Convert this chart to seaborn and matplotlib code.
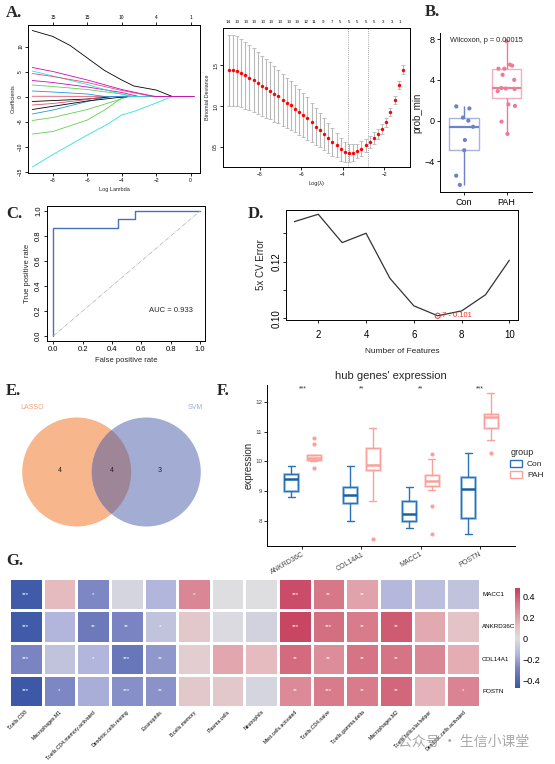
import matplotlib
matplotlib.use("Agg")
import matplotlib.pyplot as plt
import numpy as np
import pandas as pd
import seaborn as sns
from matplotlib.colors import LinearSegmentedColormap
from matplotlib.patches import Circle, Patch

# ---------------- data ----------------
# A. lasso coefficient paths: (log lambda, coefficient)
lasso_paths = [
    [(-9.2, 13.2), (-8, 12.0), (-7, 10.2), (-6, 7.7), (-5, 5.2), (-4, 3.3), (-3.3, 2.1), (-2, 1.3), (-1.06, 0), (0.2, 0)],
    [(-9.2, -14.1), (-8, -11.6), (-6, -7.7), (-4.8, -5.5), (-4, -3.7), (-3.3, -3.0), (-2, -1.3), (-1.06, 0), (0.2, 0)],
    [(-9.2, -7.5), (-8, -7.0), (-6, -4.7), (-5, -2.7), (-4, -0.3), (-3.8, 0), (0.2, 0)],
    [(-9.2, -4.8), (-8, -4.2), (-6, -2.6), (-4.5, -1.0), (-3.6, 0), (0.2, 0)],
    [(-9.2, -3.5), (-8, -2.7), (-6, -1.0), (-4.7, 0), (0.2, 0)],
    [(-9.2, -2.6), (-6, -0.9), (-4.2, -0.2), (-3.5, 0), (0.2, 0)],
    [(-9.2, -1.0), (-6, -0.5), (-4.5, 0), (0.2, 0)],
    [(-9.2, -1.7), (-8, -1.4), (-6, -0.6), (-5, 0), (0.2, 0)],
    [(-9.2, 0.05), (0.2, 0)],
    [(-9.2, 1.1), (-8, 0.9), (-6, 0.5), (-5, 0), (0.2, 0)],
    [(-9.2, 2.3), (-8, 2.0), (-6, 1.4), (-4, 0.5), (-3.3, 0), (0.2, 0)],
    [(-9.2, 3.2), (-8, 2.8), (-6, 1.9), (-4, 0.8), (-3, 0), (0.2, 0)],
    [(-9.2, 5.1), (-8, 4.1), (-6, 2.4), (-4.5, 0.9), (-3.5, 0), (0.2, 0)],
    [(-9.2, 4.6), (-8, 4.0), (-6, 2.8), (-4, 1.2), (-2.5, 0.2), (-2.2, 0), (0.2, 0)],
    [(-9.2, 5.8), (-8, 5.0), (-6, 3.3), (-4, 1.4), (-2.5, 0.3), (-2, 0), (0.2, 0)],
]
lasso_colors = ["black", "#28E2E5", "#61D04F", "#61D04F", "#2297E6", "black", "black",
                "#DF536B", "#DF536B", "#2297E6", "#61D04F", "#CD0BBC", "#28E2E5",
                "#DF536B", "#CD0BBC"]
lasso_top_pos = [-8, -6, -4, -2, 0]
lasso_top_labels = ["15", "15", "10", "4", "1"]

# A. cross-validation curve
cv_loglam = [-9.5, -9.3, -9.1, -8.9, -8.7, -8.5, -8.3, -8.1, -7.9, -7.7, -7.5, -7.3, -7.1,
             -6.9, -6.7, -6.5, -6.3, -6.1, -5.9, -5.7, -5.5, -5.3, -5.1, -4.9, -4.7, -4.5,
             -4.3, -4.1, -3.9, -3.7, -3.5, -3.3, -3.1, -2.9, -2.7, -2.5, -2.3, -2.1, -1.9,
             -1.7, -1.5, -1.3, -1.1]
cv_mean = [1.44, 1.44, 1.43, 1.41, 1.38, 1.35, 1.32, 1.28, 1.25, 1.22, 1.19, 1.15, 1.12,
           1.08, 1.04, 1.01, 0.97, 0.93, 0.89, 0.85, 0.80, 0.75, 0.71, 0.66, 0.61, 0.56,
           0.52, 0.47, 0.44, 0.42, 0.43, 0.45, 0.48, 0.52, 0.56, 0.61, 0.66, 0.72, 0.80,
           0.93, 1.08, 1.26, 1.45]
cv_se = [0.44, 0.44, 0.43, 0.42, 0.41, 0.40, 0.39, 0.38, 0.37, 0.36, 0.35, 0.34, 0.33,
         0.32, 0.31, 0.30, 0.29, 0.28, 0.27, 0.26, 0.24, 0.23, 0.21, 0.20, 0.18, 0.17,
         0.15, 0.14, 0.12, 0.11, 0.10, 0.09, 0.09, 0.08, 0.07, 0.07, 0.06, 0.06, 0.05,
         0.05, 0.05, 0.05, 0.05]
cv_lambda_lines = [-3.77, -2.77]
cv_top_pos = [-9.5, -9.09, -8.67, -8.26, -7.85, -7.43, -7.02, -6.61, -6.19, -5.78, -5.37,
              -4.95, -4.54, -4.13, -3.71, -3.30, -2.89, -2.47, -2.06, -1.65, -1.23]
cv_top_labels = ["14", "13", "13", "13", "13", "13", "13", "13", "13", "12", "11", "9",
                 "7", "5", "5", "5", "5", "5", "3", "3", "1"]

# B. prob_min by group
con_prob = [1.4, 1.2, 0.3, 0.0, -0.6, -1.9, -2.9, -5.4, -6.3]
pah_prob = [7.8, 5.5, 5.4, 5.1, 5.1, 4.5, 4.0, 3.2, 3.15, 3.1, 2.9, 1.6, 1.45, -0.1, -1.3]
b_palette = {"Con": "#6C82C8", "PAH": "#EC7B96"}

# C. ROC
roc_fpr = [0.0, 0.0, 0.444, 0.444, 0.556, 0.556, 1.0]
roc_tpr = [0.0, 0.867, 0.867, 0.933, 0.933, 1.0, 1.0]
roc_auc = 0.933

# D. SVM-RFE
n_features = [1, 2, 3, 4, 5, 6, 7, 8, 9, 10]
cv_error = [0.1341, 0.1367, 0.1267, 0.1300, 0.1141, 0.1044, 0.1009, 0.1026, 0.1083, 0.1205]

# E. Venn
venn_sets = ["LASSO", "SVM"]
venn_counts = [4, 4, 3]  # lasso only, both, svm only

# F. hub gene expression (box statistics)
f_genes = ["ANKRD36C", "COL14A1", "MACC1", "POSTN"]
f_stars = ["***", "**", "**", "***"]
con_whislo = [8.82, 8.00, 7.76, 7.55]
con_q1 = [9.00, 8.61, 8.00, 8.09]
con_med = [9.41, 8.88, 8.23, 9.06]
con_q3 = [9.59, 9.14, 8.68, 9.49]
con_whishi = [9.86, 9.86, 9.13, 10.28]
con_fliers = [[], [], [], []]
pah_whislo = [10.00, 8.67, 9.04, 10.71]
pah_q1 = [10.05, 9.72, 9.17, 11.11]
pah_med = [10.10, 9.89, 9.35, 11.48]
pah_q3 = [10.20, 10.45, 9.54, 11.59]
pah_whishi = [10.22, 11.13, 10.08, 12.28]
pah_fliers = [[10.77, 10.58, 9.78], [7.39], [10.25, 8.51, 7.55], [10.28]]

# G. correlation heatmap
heat_cols = ["T.cells.CD8", "Macrophages.M1", "T.cells.CD4.memory.activated",
             "Dendritic.cells.resting", "Eosinophils", "B.cells.memory", "Plasma.cells",
             "Neutrophils", "Mast.cells.activated", "T.cells.CD4.naive",
             "T.cells.gamma.delta", "Macrophages.M2", "T.cells.follicular.helper",
             "Dendritic.cells.activated"]
heat_rows = ["MACC1", "ANKRD36C", "COL14A1", "POSTN"]
corr_macc1 = [-0.45, 0.13, -0.27, -0.03, -0.15, 0.28, 0.00, 0.00, 0.44, 0.32, 0.20, -0.14, -0.12, -0.10]
corr_ankrd = [-0.45, -0.15, -0.32, -0.28, -0.10, 0.08, -0.01, -0.04, 0.46, 0.35, 0.31, 0.40, 0.18, 0.10]
corr_col14 = [-0.28, -0.10, -0.15, -0.33, -0.23, 0.06, 0.19, 0.13, 0.36, 0.26, 0.33, 0.33, 0.28, 0.17]
corr_postn = [-0.46, -0.27, -0.17, -0.25, -0.24, 0.08, 0.08, -0.03, 0.27, 0.31, 0.31, 0.37, 0.15, 0.29]
stars_macc1 = ["***", "", "*", "", "", "*", "", "", "***", "**", "**", "", "", ""]
stars_ankrd = ["***", "", "**", "**", "*", "", "", "", "***", "***", "**", "**", "", ""]
stars_col14 = ["***", "", "*", "***", "**", "", "", "", "**", "**", "**", "**", "", ""]
stars_postn = ["***", "*", "", "***", "**", "", "", "", "**", "***", "**", "**", "", "*"]

# ---------------- figure ----------------
W, H = 555, 764
sns.set_theme(style="ticks")
plt.rcParams["font.family"] = ["Liberation Sans", "DejaVu Sans"]
plt.rcParams.update({
    "axes.edgecolor": "black", "axes.linewidth": 0.7,
    "xtick.major.size": 2, "ytick.major.size": 2,
    "xtick.major.width": 0.6, "ytick.major.width": 0.6,
    "xtick.major.pad": 1.5, "ytick.major.pad": 1.5,
    "xtick.color": "black", "ytick.color": "black",
})

fig = plt.figure(figsize=(W / 100, H / 100), dpi=100)


def add_ax(x0, y0, x1, y1):
    return fig.add_axes([x0 / W, 1 - y1 / H, (x1 - x0) / W, (y1 - y0) / H])


def r_style(ax, fs):
    for s in ax.spines.values():
        s.set_visible(True)
        s.set_linewidth(0.7)
    ax.tick_params(labelsize=fs, direction="out")
    for t in ax.get_yticklabels():
        t.set_rotation(90)
        t.set_va("center")


def panel_label(x, y, s):
    fig.text(x / W, 1 - y / H, s, fontfamily="Liberation Serif", fontweight="bold",
             fontsize=12, va="top", ha="left")


# A1 lasso paths
ax = add_ax(28, 25, 200, 173)
for path, col in zip(lasso_paths, lasso_colors):
    df = pd.DataFrame(path, columns=["loglam", "coef"])
    sns.lineplot(data=df, x="loglam", y="coef", ax=ax, color=col, lw=0.6,
                 sort=False, estimator=None)
ax.set_xlim(-9.45, 0.55)
ax.set_ylim(-15.3, 14.3)
ax.set_xticks([-8, -6, -4, -2, 0])
ax.set_yticks([-15, -10, -5, 0, 5, 10])
ax.set_xlabel("Log Lambda", fontsize=4, labelpad=3)
ax.set_ylabel("Coefficients", fontsize=4, labelpad=2)
r_style(ax, 3.5)
top = ax.secondary_xaxis("top")
top.set_xticks(lasso_top_pos, labels=lasso_top_labels)
top.tick_params(labelsize=3.5, length=2, pad=1.5)

# A2 cv curve
ax = add_ax(223, 28, 410, 167)
ax.errorbar(cv_loglam, cv_mean, yerr=cv_se, fmt="none", ecolor="#B8B8B8",
            elinewidth=0.8, capsize=1.4, capthick=0.6)
sns.scatterplot(x=cv_loglam, y=cv_mean, ax=ax, color="#FF0000", s=6, linewidth=0, zorder=3)
for v in cv_lambda_lines:
    ax.axvline(v, color="#888888", ls=(0, (1, 1.5)), lw=0.6)
ax.set_xlim(-9.77, -0.76)
ax.set_ylim(0.253, 1.96)
ax.set_xticks([-8, -6, -4, -2])
ax.set_yticks([0.5, 1.0, 1.5])
ax.set_xlabel("Log(λ)", fontsize=4, labelpad=3)
ax.set_ylabel("Binomial Deviance", fontsize=4, labelpad=2)
r_style(ax, 3.5)
top = ax.secondary_xaxis("top")
top.set_xticks(cv_top_pos, labels=cv_top_labels)
top.tick_params(labelsize=3.2, length=0, pad=3)
top.spines["top"].set_visible(False)

# B boxplot
b_df = pd.DataFrame({"group": ["Con"] * len(con_prob) + ["PAH"] * len(pah_prob),
                     "prob_min": con_prob + pah_prob})
ax = add_ax(440, 33, 532, 192)
sns.boxplot(data=b_df, x="group", y="prob_min", hue="group", palette=b_palette,
            fill=False, width=0.7, showfliers=False, showcaps=False, linewidth=1.0,
            boxprops=dict(alpha=0.6), medianprops=dict(linewidth=1.6),
            legend=False, ax=ax)
np.random.seed(7)
sns.stripplot(data=b_df, x="group", y="prob_min", hue="group", palette=b_palette,
              jitter=0.22, size=3, linewidth=0, legend=False, ax=ax, zorder=3)
ax.set_xlim(-0.57, 1.6)
ax.set_ylim(-7.0, 8.6)
ax.set_yticks([-4, 0, 4, 8])
ax.set_xlabel("")
ax.set_ylabel("prob_min", fontsize=7, labelpad=1)
ax.tick_params(labelsize=6.5, length=2.5)
sns.despine(ax=ax)
ax.text(-0.34, 7.9, "Wilcoxon, p = 0.00015", fontsize=5.3, va="center", ha="left")

# C ROC
ax = add_ax(47, 206, 205, 341)
sns.lineplot(x=roc_fpr, y=roc_tpr, ax=ax, color="#4A72B8", lw=1.0, sort=False, estimator=None)
ax.plot([0, 1], [0, 1], color="#B0B0B0", lw=0.5, ls="-.")
ax.set_xlim(-0.043, 1.034)
ax.set_ylim(-0.04, 1.04)
ax.set_xticks([0, 0.2, 0.4, 0.6, 0.8, 1.0])
ax.set_yticks([0, 0.2, 0.4, 0.6, 0.8, 1.0])
ax.set_xticklabels(["0.0", "0.2", "0.4", "0.6", "0.8", "1.0"])
ax.set_yticklabels(["0.0", "0.2", "0.4", "0.6", "0.8", "1.0"])
ax.set_xlabel("False positive rate", fontsize=5.5, labelpad=3)
ax.set_ylabel("True positive rate", fontsize=5.5, labelpad=3)
r_style(ax, 5.5)
ax.text(0.80, 0.2, f"AUC = {roc_auc}", fontsize=5.5, ha="center", va="center")

# D SVM-RFE
ax = add_ax(286, 210, 518, 320)
sns.lineplot(x=n_features, y=cv_error, ax=ax, color="#333333", lw=0.9)
best = int(np.argmin(cv_error))
ax.scatter(n_features[best], cv_error[best], s=14, facecolors="none",
           edgecolors="#E8322E", linewidths=0.7, zorder=3)
ax.text(n_features[best] + 0.17, cv_error[best], f"{n_features[best]} - {cv_error[best]:.3f}",
        color="#E8322E", fontsize=5.5, va="center", ha="left")
ax.set_xlim(0.65, 10.36)
ax.set_ylim(0.0994, 0.1382)
ax.set_xticks([2, 4, 6, 8, 10])
ax.set_yticks([0.10, 0.11, 0.12, 0.13])
ax.set_yticklabels(["0.10", "", "0.12", ""])
ax.set_xlabel("Number of Features", fontsize=6, labelpad=6)
ax.set_ylabel("5x CV Error", fontsize=7, labelpad=4)
r_style(ax, 7)
ax.tick_params(axis="x", pad=5)

# E Venn
ax = add_ax(0, 395, 255, 555)
ax.set_xlim(0, 255)
ax.set_ylim(555, 395)
ax.axis("off")
left_c = Circle((76.7, 472), 54.5, facecolor="#F7B68C", edgecolor="none")
right_c = Circle((146.3, 472), 54.5, facecolor="#A3ADD4", edgecolor="none")
lens = Circle((146.3, 472), 54.5, facecolor="#9E8598", edgecolor="none")
ax.add_patch(left_c)
ax.add_patch(right_c)
ax.add_patch(lens)
lens.set_clip_path(left_c)
ax.text(32, 407.7, venn_sets[0], color="#F3A27C", fontsize=5, ha="center", va="center")
ax.text(195, 407.7, venn_sets[1], color="#A3ADD4", fontsize=5, ha="center", va="center")
for xpos, n in zip([59.5, 112, 159.5], venn_counts):
    ax.text(xpos, 471, str(n), fontsize=5, ha="center", va="center", color="#222222")

# F hub gene boxplots
ax = add_ax(267, 385, 515, 546)
f_groups = [
    ("Con", -0.19, "#2B73B6", "#A4C6E4", "#1761A3",
     con_whislo, con_q1, con_med, con_q3, con_whishi, con_fliers),
    ("PAH", 0.19, "#F9A19A", "#FDDAD6", "#F9A19A",
     pah_whislo, pah_q1, pah_med, pah_q3, pah_whishi, pah_fliers),
]
for name, off, col, light, medc, lo, q1, med, q3, hi, fl in f_groups:
    stats = [dict(whislo=lo[i], q1=q1[i], med=med[i], q3=q3[i], whishi=hi[i], fliers=fl[i])
             for i in range(len(f_genes))]
    pos = [i + off for i in range(len(f_genes))]
    ax.bxp(stats, positions=pos, widths=0.24, patch_artist=True, showfliers=False,
           boxprops=dict(facecolor="white", edgecolor=light, linewidth=2.0),
           medianprops=dict(color=light, linewidth=0),
           whiskerprops=dict(linewidth=0), capprops=dict(linewidth=0), manage_ticks=False)
    ax.bxp(stats, positions=pos, widths=0.24, patch_artist=True, capwidths=0.12,
           boxprops=dict(facecolor="none", edgecolor=col, linewidth=0.9),
           medianprops=dict(color=medc, linewidth=1.8),
           whiskerprops=dict(color=col, linewidth=1.0),
           capprops=dict(color=col, linewidth=1.0),
           flierprops=dict(marker="o", markerfacecolor=col, markeredgecolor="none",
                           markersize=3),
           manage_ticks=False)
for i, s in enumerate(f_stars):
    ax.text(i, 12.42, s, fontsize=5, ha="center", va="center", color="#333333")
ax.set_xlim(-0.6, 3.6)
ax.set_ylim(7.16, 12.56)
ax.set_xticks(range(len(f_genes)))
ax.set_xticklabels(f_genes, rotation=30, ha="right", rotation_mode="anchor",
                   fontsize=5, color="#444444")
ax.set_yticks([8, 9, 10, 11, 12])
ax.tick_params(axis="y", labelsize=4.5, labelcolor="#444444", length=2)
ax.tick_params(axis="x", length=2)
sns.despine(ax=ax)
ax.set_ylabel("expression", fontsize=7)
ax.yaxis.set_label_coords(-0.055, 0.5)
ax.set_title("hub genes' expression", fontsize=8, pad=4)
handles = [Patch(facecolor="white", edgecolor=g[2], linewidth=1.0) for g in f_groups]
fig.legend(handles, [g[0] for g in f_groups], title="group", loc="upper left",
           bbox_to_anchor=(507 / W, 1 - 445 / H), frameon=False, fontsize=6,
           title_fontsize=6.5, handlelength=1.4, handleheight=0.9, labelspacing=0.3,
           alignment="left", borderaxespad=0, handletextpad=0.6)

# G heatmap
heat_df = pd.DataFrame([corr_macc1, corr_ankrd, corr_col14, corr_postn],
                       index=heat_rows, columns=heat_cols)
star_df = pd.DataFrame([stars_macc1, stars_ankrd, stars_col14, stars_postn],
                       index=heat_rows, columns=heat_cols)
vmin, vmax = -0.47, 0.48
anchors = [(-0.47, "#3A56A5"), (-0.28, "#7A84C2"), (-0.15, "#B3B6DC"), (0.0, "#DEDDE0"),
           (0.13, "#E6BBBF"), (0.27, "#DC8A97"), (0.46, "#C94663"), (0.48, "#C8405E")]
heat_cmap = LinearSegmentedColormap.from_list(
    "corr", [((v - vmin) / (vmax - vmin), c) for v, c in anchors])
ax = add_ax(9, 578, 480, 707)
cax = add_ax(515, 588, 520, 688)
sns.heatmap(heat_df, ax=ax, cbar_ax=cax, cmap=heat_cmap, vmin=vmin, vmax=vmax,
            annot=star_df, fmt="", annot_kws=dict(fontsize=4.5, color="white"),
            linewidths=0.8, linecolor="white")
ax.set_xticklabels(heat_cols, rotation=45, ha="right", rotation_mode="anchor", fontsize=3.7)
ax.yaxis.tick_right()
ax.set_yticklabels(heat_rows, rotation=0, fontsize=4.5)
ax.tick_params(length=0, pad=1.5)
ax.set_xlabel("")
ax.set_ylabel("")
cax.set_yticks([-0.4, -0.2, 0, 0.2, 0.4])
cax.set_yticklabels(["−0.4", "−0.2", "0", "0.2", "0.4"])
cax.tick_params(labelsize=6.5, length=0, pad=2)
cax.set_frame_on(False)

# panel labels
panel_label(6, 5, "A.")
panel_label(425, 4, "B.")
panel_label(6, 206, "C.")
panel_label(248, 206, "D.")
panel_label(6, 383, "E.")
panel_label(217, 383, "F.")
panel_label(6, 553, "G.")

# watermark
fig.text(398 / W, 1 - 742 / H, "公众号 · 生信小课堂", fontsize=10, color="#9A9A9A",
         alpha=0.85, va="center", ha="left", family=["Noto Sans CJK SC", "DejaVu Sans"])

fig.savefig("out.png", dpi=100)
